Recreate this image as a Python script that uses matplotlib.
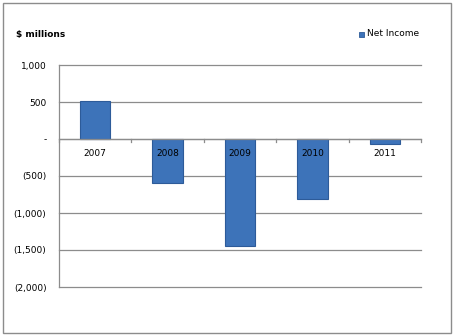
import numpy as np
import matplotlib.pyplot as plt
from matplotlib.patches import Rectangle

years = ['2007', '2008', '2009', '2010', '2011']
net_income = [520, -595, -1445, -810, -65]
y_ticks = [1000, 500, 0, -500, -1000, -1500, -2000]
y_labels = ['1,000', '500', '-', '(500)', '(1,000)', '(1,500)', '(2,000)']

plt.rcParams['font.family'] = ['DejaVu Sans']

fig = plt.figure(figsize=(4.57, 3.36), dpi=100)
ax = fig.add_axes([59 / 457, 1 - 287 / 336, (421 - 59) / 457, (287 - 65) / 336])

x = np.arange(len(years))
bars = ax.bar(x, net_income, width=0.42, color='#3d73b9', edgecolor='#2d5b99',
              linewidth=0.8, zorder=3)

ax.set_xlim(-0.5, len(years) - 0.5)
ax.set_ylim(-2000, 1000)
ax.set_yticks(y_ticks)
ax.set_yticklabels(y_labels, fontsize=6.5)
ax.tick_params(axis='y', length=0, pad=9)
ax.set_xticks([])
ax.yaxis.grid(True, color='#8c8c8c', linewidth=0.9, zorder=0)
for gl in ax.get_ygridlines():
    gl.set_clip_on(False)

for s in ['top', 'right', 'bottom']:
    ax.spines[s].set_visible(False)
ax.spines['left'].set_color('#8c8c8c')
ax.spines['left'].set_linewidth(0.9)

# category axis along zero with tick marks between categories
ax.axhline(0, color='#8c8c8c', linewidth=0.9, zorder=4)
for b in np.arange(len(years) + 1) - 0.5:
    ax.plot([b, b], [0, -45], color='#8c8c8c', linewidth=0.9, zorder=4, clip_on=False)
for i, yr in enumerate(years):
    ax.text(i, -190, yr, ha='center', va='center', fontsize=6.5, zorder=5)

fig.text(16 / 457, 1 - 34 / 336, '$ millions', fontsize=6.5, fontweight='bold', va='center')
fig.patches.append(Rectangle((359 / 457, 1 - 37 / 336), 5 / 457, 5 / 336,
                             transform=fig.transFigure, facecolor='#3d73b9',
                             edgecolor='#2d5b99', linewidth=0.6))
fig.text(367 / 457, 1 - 34 / 336, 'Net Income', fontsize=6.5, va='center')

fig.patches.append(Rectangle((2.5 / 457, 3 / 336), 448 / 457, 330 / 336,
                             transform=fig.transFigure, fill=False,
                             edgecolor='#8c8c8c', linewidth=1.0))

fig.savefig('out.png', dpi=100)
